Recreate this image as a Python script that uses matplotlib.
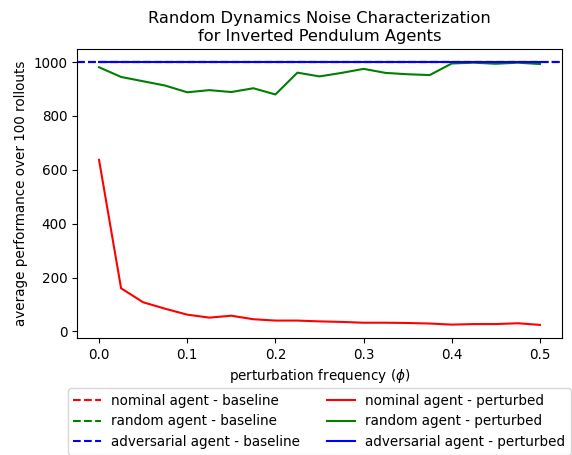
import matplotlib
matplotlib.use("Agg")
import matplotlib.pyplot as plt

plt.rcParams["font.size"] = 9.75

# perturbation frequency (phi)
phi = [0.0, 0.025, 0.05, 0.075, 0.1, 0.125, 0.15, 0.175, 0.2, 0.225, 0.25,
       0.275, 0.3, 0.325, 0.35, 0.375, 0.4, 0.425, 0.45, 0.475, 0.5]

nominal_perturbed = [637, 160, 108, 84, 62, 51, 58, 45, 40, 40, 37,
                     35, 32, 32, 31, 29, 25, 27, 27, 30, 24]
random_perturbed = [981, 945, 929, 913, 888, 896, 889, 903, 880, 961, 947,
                    960, 975, 960, 955, 952, 995, 998, 994, 998, 993]
adversarial_perturbed = [1000] * len(phi)

nominal_baseline = 1000
random_baseline = 1000
adversarial_baseline = 1000

fig, ax = plt.subplots(figsize=(5.72, 4.55), dpi=100)
fig.subplots_adjust(left=0.1346, right=0.9825, top=0.8923, bottom=0.2571)

h1 = ax.axhline(nominal_baseline, color="r", linestyle="--", label="nominal agent - baseline")
h2 = ax.axhline(random_baseline, color="g", linestyle="--", label="random agent - baseline")
h4, = ax.plot(phi, nominal_perturbed, color="r", label="nominal agent - perturbed")
h5, = ax.plot(phi, random_perturbed, color="g", label="random agent - perturbed")
h6, = ax.plot(phi, adversarial_perturbed, color="b", label="adversarial agent - perturbed")
h3 = ax.axhline(adversarial_baseline, color="b", linestyle="--", label="adversarial agent - baseline")

ax.set_xlabel(r"perturbation frequency ($\phi$)")
ax.set_ylabel("average performance over 100 rollouts")
ax.set_title("Random Dynamics Noise Characterization\nfor Inverted Pendulum Agents")

ax.legend(handles=[h1, h2, h3, h4, h5, h6], loc="upper center",
          bbox_to_anchor=(0.5, -0.15), ncol=2)

plt.savefig("out.png")
